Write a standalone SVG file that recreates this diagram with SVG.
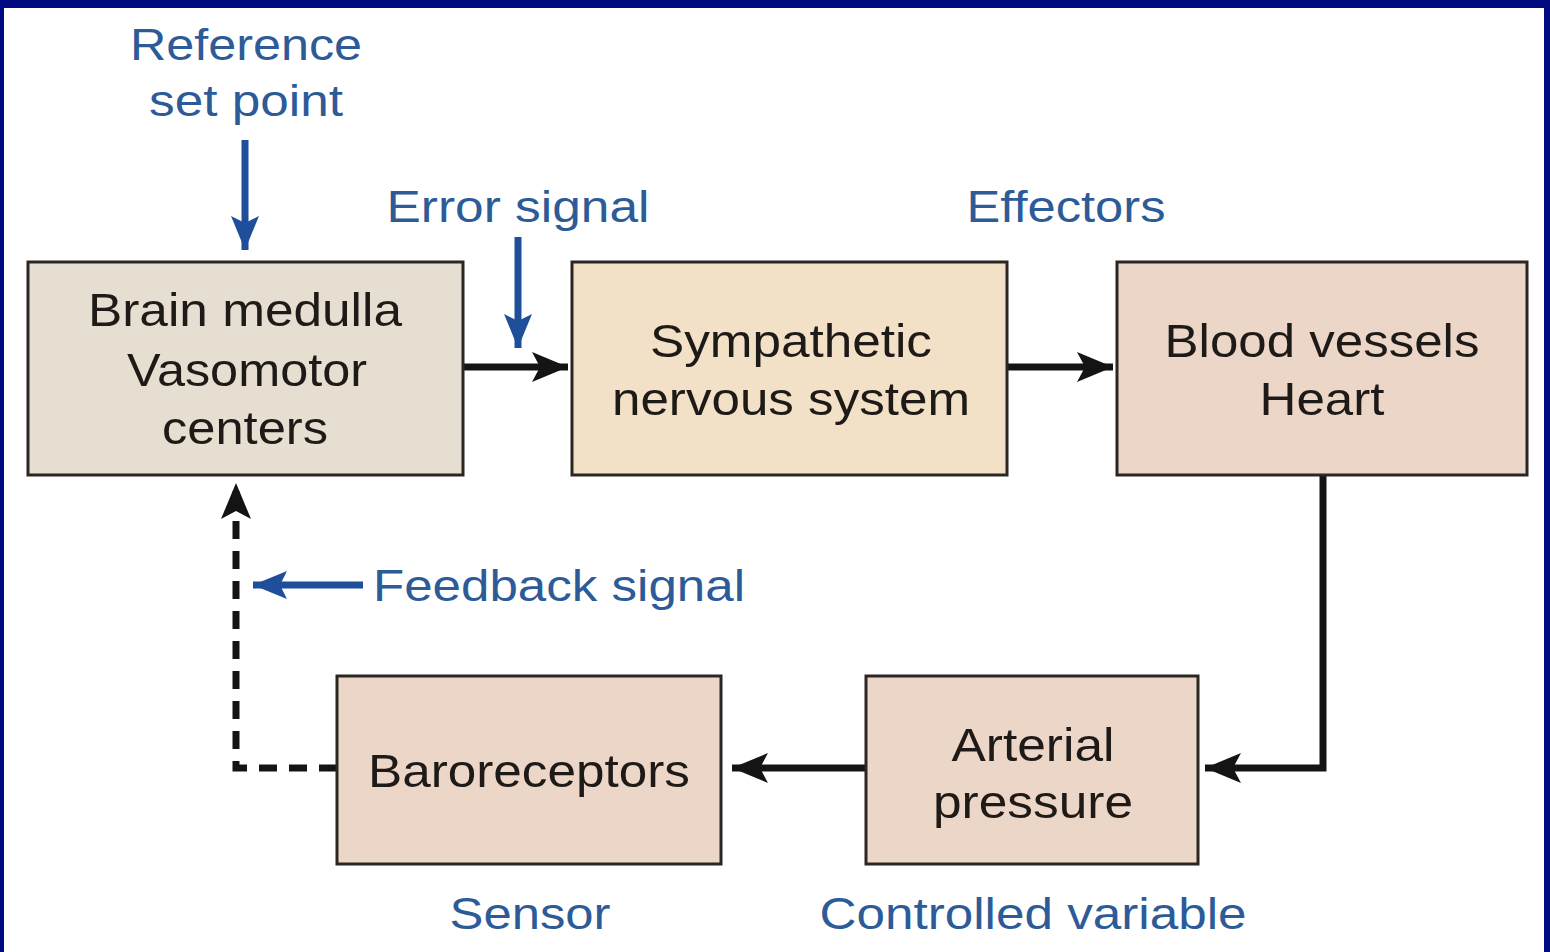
<svg xmlns="http://www.w3.org/2000/svg" width="1550" height="952" viewBox="0 0 1550 952">
  <style>
    .box { stroke: #2b2622; stroke-width: 3; }
    .label { font-family: "Liberation Sans", Arial, sans-serif; font-size: 46px; fill: #1e1a17; text-anchor: middle; }
    .note { font-family: "Liberation Sans", Arial, sans-serif; font-size: 44px; fill: #2c5b98; text-anchor: middle; }
    .flow { stroke: #141414; stroke-width: 7; fill: none; }
    .dash { stroke: #141414; stroke-width: 7; fill: none; stroke-dasharray: 18 12; }
    .cue { stroke: #1f4f9b; stroke-width: 7; fill: none; }
  </style>
  <defs>
    <marker id="headBlack" markerUnits="userSpaceOnUse" markerWidth="40" markerHeight="32" refX="36" refY="15" orient="auto">
      <path d="M0,0 L36,15 L0,30 L8,15 Z" fill="#141414"/>
    </marker>
    <marker id="headBlue" markerUnits="userSpaceOnUse" markerWidth="40" markerHeight="32" refX="34" refY="14" orient="auto">
      <path d="M0,0 L34,14 L0,28 L7,14 Z" fill="#1f4f9b"/>
    </marker>
  </defs>

  <!-- page frame -->
  <rect x="0" y="0" width="1550" height="952" fill="#ffffff"/>
  <rect x="0" y="0" width="1550" height="8" fill="#000a80"/>
  <rect x="0" y="0" width="4" height="952" fill="#000a80"/>
  <rect x="1544" y="0" width="6" height="952" fill="#000a80"/>

  <!-- connectors -->
  <g id="connectors">
    <line class="cue" x1="245" y1="140" x2="245" y2="250" marker-end="url(#headBlue)"/>
    <line class="cue" x1="518" y1="237" x2="518" y2="348" marker-end="url(#headBlue)"/>
    <line class="cue" x1="363" y1="585" x2="253" y2="585" marker-end="url(#headBlue)"/>
    <line class="flow" x1="463" y1="367" x2="568" y2="367" marker-end="url(#headBlack)"/>
    <line class="flow" x1="1007" y1="367" x2="1113" y2="367" marker-end="url(#headBlack)"/>
    <polyline class="flow" points="1323,475 1323,768 1205,768" marker-end="url(#headBlack)"/>
    <line class="flow" x1="866" y1="768" x2="732" y2="768" marker-end="url(#headBlack)"/>
    <polyline class="dash" points="337,768 236,768 236,483" marker-end="url(#headBlack)"/>
  </g>

  <!-- nodes -->
  <g id="brain-medulla">
    <rect class="box" x="28" y="262" width="435" height="213" fill="#e6ded1"/>
    <text class="label" x="245" y="326" textLength="314" lengthAdjust="spacingAndGlyphs">Brain medulla</text>
    <text class="label" x="247" y="386" textLength="240" lengthAdjust="spacingAndGlyphs">Vasomotor</text>
    <text class="label" x="245" y="444" textLength="166" lengthAdjust="spacingAndGlyphs">centers</text>
  </g>
  <g id="sympathetic">
    <rect class="box" x="572" y="262" width="435" height="213" fill="#f2e0c7"/>
    <text class="label" x="791" y="357" textLength="282" lengthAdjust="spacingAndGlyphs">Sympathetic</text>
    <text class="label" x="791" y="415" textLength="358" lengthAdjust="spacingAndGlyphs">nervous system</text>
  </g>
  <g id="blood-vessels">
    <rect class="box" x="1117" y="262" width="410" height="213" fill="#ecd6c8"/>
    <text class="label" x="1322" y="357" textLength="315" lengthAdjust="spacingAndGlyphs">Blood vessels</text>
    <text class="label" x="1322" y="415" textLength="125" lengthAdjust="spacingAndGlyphs">Heart</text>
  </g>
  <g id="baroreceptors">
    <rect class="box" x="337" y="676" width="384" height="188" fill="#ecd6c8"/>
    <text class="label" x="529" y="787" textLength="322" lengthAdjust="spacingAndGlyphs">Baroreceptors</text>
  </g>
  <g id="arterial-pressure">
    <rect class="box" x="866" y="676" width="332" height="188" fill="#ecd6c8"/>
    <text class="label" x="1033" y="761" textLength="163" lengthAdjust="spacingAndGlyphs">Arterial</text>
    <text class="label" x="1033" y="818" textLength="200" lengthAdjust="spacingAndGlyphs">pressure</text>
  </g>

  <!-- annotations -->
  <g id="annotations">
    <text class="note" x="246" y="60" textLength="232" lengthAdjust="spacingAndGlyphs">Reference</text>
    <text class="note" x="246" y="116" textLength="194" lengthAdjust="spacingAndGlyphs">set point</text>
    <text class="note" x="518" y="222" textLength="263" lengthAdjust="spacingAndGlyphs">Error signal</text>
    <text class="note" x="1066" y="222" textLength="199" lengthAdjust="spacingAndGlyphs">Effectors</text>
    <text class="note" x="559" y="601" textLength="372" lengthAdjust="spacingAndGlyphs">Feedback signal</text>
    <text class="note" x="530" y="929" textLength="161" lengthAdjust="spacingAndGlyphs">Sensor</text>
    <text class="note" x="1033" y="929" textLength="427" lengthAdjust="spacingAndGlyphs">Controlled variable</text>
  </g>
</svg>
